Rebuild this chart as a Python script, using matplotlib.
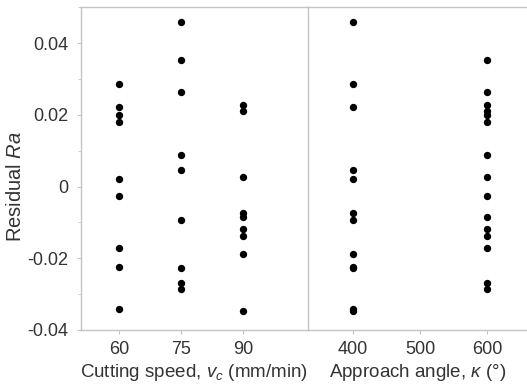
import matplotlib
matplotlib.use("Agg")
import matplotlib.pyplot as plt
from matplotlib.ticker import FixedLocator, MultipleLocator

plt.rcParams['font.family'] = ['Liberation Sans', 'DejaVu Sans']
plt.rcParams['mathtext.fontset'] = 'custom'
plt.rcParams['mathtext.rm'] = 'Liberation Sans'
plt.rcParams['mathtext.it'] = 'Liberation Sans:italic'
plt.rcParams['axes.unicode_minus'] = False

# residuals grouped by cutting speed level
speed_60 = [0.0286, 0.0223, 0.0200, 0.0181, 0.0021, -0.0026, -0.0171, -0.0224, -0.0341]
speed_75 = [0.0459, 0.0353, 0.0263, 0.0088, 0.0047, -0.0093, -0.0228, -0.0268, -0.0285]
speed_90 = [0.0227, 0.0211, 0.0026, -0.0073, -0.0086, -0.0117, -0.0139, -0.0189, -0.0347]

# residuals grouped by approach angle level
angle_400 = [0.0459, 0.0286, 0.0223, 0.0047, 0.0021, -0.0073, -0.0093, -0.0189,
             -0.0224, -0.0228, -0.0341, -0.0347]
angle_600 = [0.0353, 0.0263, 0.0227, 0.0211, 0.0200, 0.0181, 0.0088, 0.0026, -0.0026,
             -0.0086, -0.0117, -0.0139, -0.0171, -0.0268, -0.0285]

speed_levels = [60, 75, 90]
angle_levels = [400, 500, 600]
y_ticks = [-0.04, -0.02, 0, 0.02, 0.04]
y_ticklabels = ["-0.04", "-0.02", "0", "0.02", "0.04"]

spine_col = "#c4c4c4"
text_col = "#333333"
fs_tick = 13
fs_lab = 13.5

fig = plt.figure(figsize=(5.27, 3.89), dpi=100)
ax1 = fig.add_axes([80.5 / 527, 59 / 389, (308 - 80.5) / 527, 323 / 389])
ax2 = fig.add_axes([308 / 527, 59 / 389, (527 - 308) / 527, 323 / 389])

for lev, vals in zip(speed_levels, [speed_60, speed_75, speed_90]):
    ax1.scatter([lev] * len(vals), vals, s=28, color="black", linewidths=0, zorder=3)
for lev, vals in zip([400, 600], [angle_400, angle_600]):
    ax2.scatter([lev] * len(vals), vals, s=28, color="black", linewidths=0, zorder=3)

ax1.set_xlim(50.7, 105.8)
ax2.set_xlim(333.5, 659)
for ax in (ax1, ax2):
    ax.set_ylim(-0.04, 0.0501)
    for sp in ax.spines.values():
        sp.set_color(spine_col)
        sp.set_linewidth(1.0)
    ax.tick_params(colors=spine_col, labelcolor=text_col, labelsize=fs_tick,
                   length=3, width=0.8, direction="out")

ax1.xaxis.set_major_locator(FixedLocator(speed_levels))
ax1.yaxis.set_major_locator(FixedLocator(y_ticks))
ax1.set_yticklabels(y_ticklabels)
ax1.yaxis.set_minor_locator(MultipleLocator(0.01))
ax1.tick_params(axis="y", which="minor", length=2, width=0.6, colors=spine_col)
ax1.tick_params(axis="y", pad=6)
ax1.tick_params(axis="x", pad=5)
ax1.spines["right"].set_visible(False)

ax2.xaxis.set_major_locator(FixedLocator(angle_levels))
ax2.tick_params(axis="x", pad=5)
ax2.set_yticks([])
ax2.spines["right"].set_visible(False)

ax1.set_xlabel(r"Cutting speed, $v_c$ (mm/min)", fontsize=fs_lab, color=text_col, labelpad=3)
ax2.set_xlabel(r"Approach angle, $\kappa$ (°)", fontsize=fs_lab, color=text_col, labelpad=3)
ax1.set_ylabel(r"Residual $Ra$", fontsize=14.5, color=text_col)
ax1.yaxis.set_label_coords(-0.245, 0.444)

fig.savefig("out.png", dpi=100)
